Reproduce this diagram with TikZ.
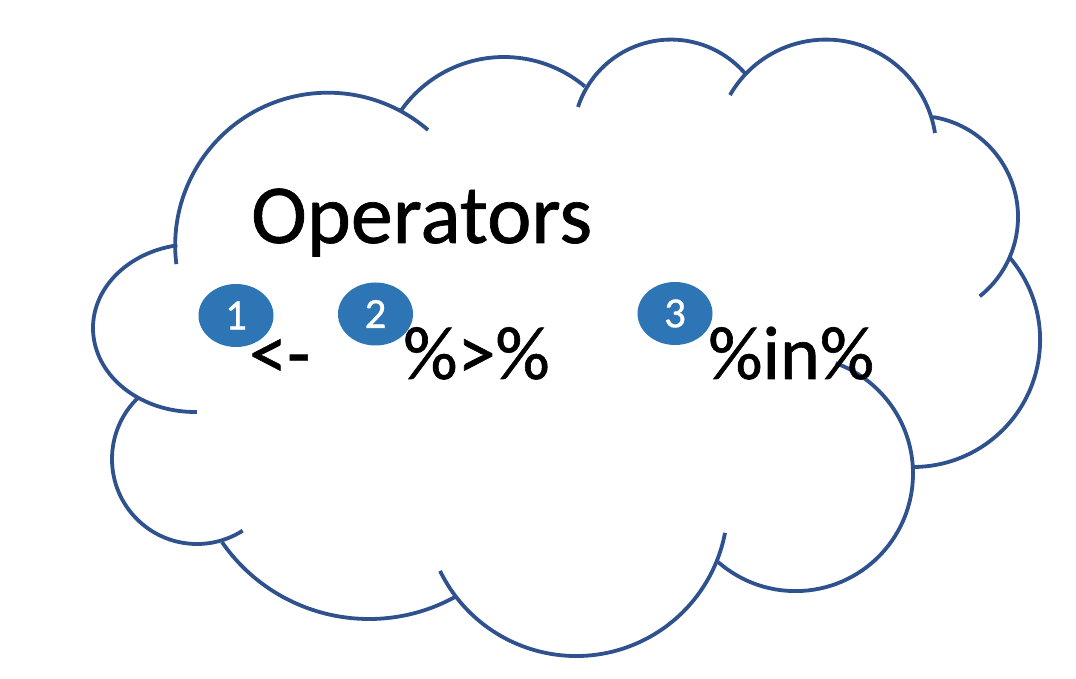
\documentclass[tikz,border=0pt]{standalone}
\usepackage{fontspec}
\setmainfont{Carlito}
\newfontfamily\slidefont[FakeBold=0.8]{Carlito}
\usepackage{tikz}
\usetikzlibrary{shapes.geometric}

\definecolor{cloudline}{RGB}{47,82,143}
\definecolor{badgefill}{RGB}{46,117,182}

\begin{document}
\begin{tikzpicture}[x=1pt,y=1pt,
lobe/.style={draw=cloudline,line width=3.8pt},
badge/.style={ellipse,fill=badgefill,text=white,inner sep=0pt,
minimum width=75pt,minimum height=63pt,font=\slidefont\fontsize{43}{50}\selectfont},
optext/.style={anchor=base west,inner sep=0pt,font=\slidefont\fontsize{76}{90}\selectfont},
headtext/.style={anchor=base west,inner sep=0pt,font=\slidefont\fontsize{84}{100}\selectfont}]
\useasboundingbox (0,0) rectangle (1076,678);
% the cloud, one arc for each lobe: centre x/y, radii, start and end angle
\foreach \cx/\cy/\rx/\ry/\a/\b in {
195/350/102/84/100/271,
197/219/85/85/133/302.5,
369/238/179/179/214.8/298.7,
576.2/173.5/151.5/151.5/206/349.2,
795.5/204.4/117.5/117.5/-131.2/70,
913.1/338/127/127/40.2/-90,
916.7/461/101.3/101.3/80.7/-51.5,
825.8/527.9/110.5/110.5/150.1/8.9,
671/540.5/97.9/97.9/161.8/40,
504/495.2/125.8/125.8/145.8/50,
328/432.5/152.8/152.8/187/49.1}
\draw[lobe] (\cx,\cy) ++({\a}:{\rx} and {\ry})
arc[start angle=\a,end angle=\b,x radius=\rx,y radius=\ry];
% title
\node[headtext] (title) at (251,435) {Operators};
% numbered badges
\node[badge] (b1) at (236,362.5) {1};
\node[badge] (b2) at (375.5,364) {2};
\node[badge] (b3) at (675,364.5) {3};
% the operators
\node[optext] (op1) at (249,299) {<-};
\node[optext] (op2) at (403,299) {\%>\%};
\node[optext] (op3) at (708,299) {\%in\%};
\end{tikzpicture}
\end{document}
